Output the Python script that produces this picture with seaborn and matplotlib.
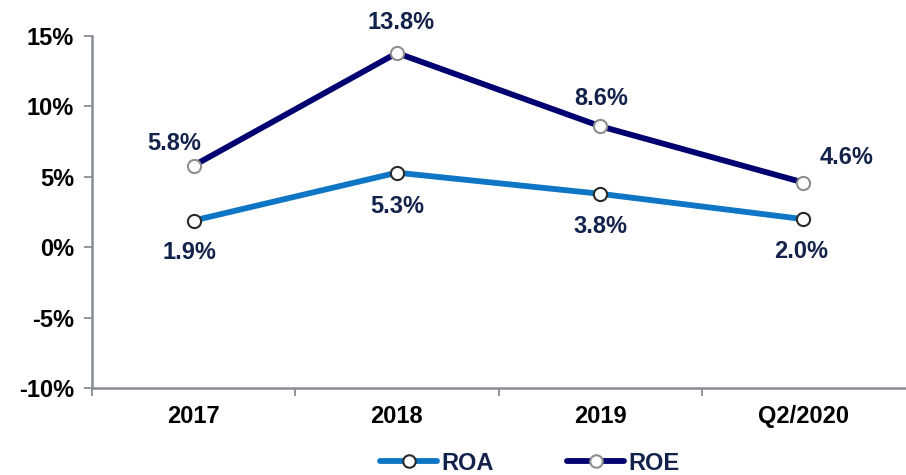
import matplotlib
matplotlib.use("Agg")
import matplotlib.pyplot as plt
import pandas as pd
import seaborn as sns
from matplotlib.ticker import FixedLocator, FuncFormatter

periods = ["2017", "2018", "2019", "Q2/2020"]
roa = [1.9, 5.3, 3.8, 2.0]
roe = [5.8, 13.8, 8.6, 4.6]

sns.set_theme(style="white")
plt.rcParams["font.family"] = ["Liberation Sans", "DejaVu Sans"]
plt.rcParams["font.weight"] = "bold"

df = pd.DataFrame({
    "period": periods * 2,
    "value": roa + roe,
    "metric": ["ROA"] * 4 + ["ROE"] * 4,
})

ROA_C = "#0E76C4"
ROE_C = "#000070"
TXT_C = "#13224A"
AX_C = "#888C94"
FS = 17

fig = plt.figure(figsize=(9.06, 4.75), dpi=100)
ax = fig.add_axes([0.1015, 0.183, 0.8975, 0.741])

sns.lineplot(data=df, x="period", y="value", hue="metric",
             palette={"ROA": ROA_C, "ROE": ROE_C}, linewidth=4.2,
             sort=False, ax=ax, legend=False)
# markers drawn separately so each series gets its own edge colour
for name, edge in [("ROA", "#2A2A2A"), ("ROE", "#8E8E8E")]:
    sub = df[df.metric == name]
    sns.scatterplot(data=sub, x="period", y="value", ax=ax, s=90,
                    color="white", edgecolor=edge, linewidth=1.5,
                    zorder=5, legend=False)

# data labels (offsets in points)
roe_off = [(-13.7, 15.8), (2.9, 22.3), (0.7, 20.2), (31, 18)]
roa_off = [(-2.9, -23), (0, -24.5), (0, -23.8), (-1.4, -23)]
for vals, offs in [(roe, roe_off), (roa, roa_off)]:
    for i, (v, off) in enumerate(zip(vals, offs)):
        ax.annotate(f"{v:.1f}%", (i, v), xytext=off, textcoords="offset points",
                    ha="center", va="center", fontsize=FS, fontweight="bold",
                    color=TXT_C)

ax.set_xlim(-0.5, 3.5)
ax.set_ylim(-10, 15)
ax.set_yticks(range(-10, 16, 5))
ax.yaxis.set_major_formatter(FuncFormatter(lambda v, _: f"{v:.0f}%"))
ax.xaxis.set_minor_locator(FixedLocator([-0.5, 0.5, 1.5, 2.5]))
ax.tick_params(axis="x", which="major", length=0, pad=12, labelsize=FS)
ax.tick_params(axis="x", which="minor", bottom=True, length=6, color=AX_C, width=1.3)
ax.tick_params(axis="y", left=True, length=6, color=AX_C, width=1.3, pad=7, labelsize=FS)
for lab in ax.get_xticklabels() + ax.get_yticklabels():
    lab.set_fontweight("bold")
    lab.set_color("black")
ax.set_xlabel("")
ax.set_ylabel("")
for s in ["top", "right"]:
    ax.spines[s].set_visible(False)
for s in ["left", "bottom"]:
    ax.spines[s].set_color(AX_C)
    ax.spines[s].set_linewidth(1.8)

h1 = plt.Line2D([], [], color=ROA_C, lw=4.2, marker="o", markersize=9,
                markerfacecolor="white", markeredgecolor="#2A2A2A", markeredgewidth=1.5)
h2 = plt.Line2D([], [], color=ROE_C, lw=4.2, marker="o", markersize=9,
                markerfacecolor="white", markeredgecolor="#8E8E8E", markeredgewidth=1.5)
leg = fig.legend([h1, h2], ["ROA", "ROE"], loc="center", bbox_to_anchor=(0.585, 0.025),
                 ncol=2, frameon=False, fontsize=FS, handlelength=2.4,
                 handletextpad=0.2, columnspacing=3.1)
for t in leg.get_texts():
    t.set_color(TXT_C)
    t.set_fontweight("bold")

fig.savefig("out.png", dpi=100)
